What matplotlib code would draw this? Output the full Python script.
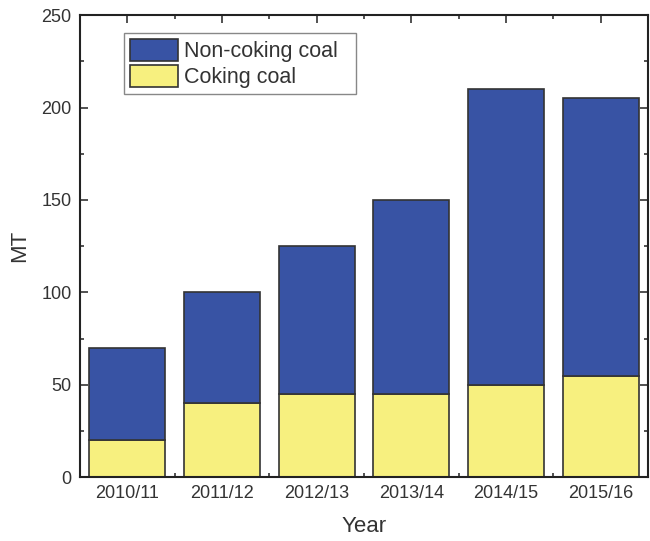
import matplotlib
matplotlib.use("Agg")
import matplotlib.pyplot as plt
import numpy as np
from matplotlib.ticker import MultipleLocator, FixedLocator

plt.rcParams['font.family'] = ['Liberation Sans', 'DejaVu Sans']

years = ["2010/11", "2011/12", "2012/13", "2013/14", "2014/15", "2015/16"]
coking = [20, 40, 45, 45, 50, 55]
non_coking = [50, 60, 80, 105, 160, 150]

blue = "#3853A4"
yellow = "#F7F07F"
txt = "#333333"

fig = plt.figure(figsize=(6.5, 5.41), dpi=100)
ax = fig.add_axes([0.123, 0.118, 0.874, 0.854])

x = np.arange(len(years))
ax.bar(x, coking, width=0.8, color=yellow, edgecolor="#333333", linewidth=1.2, label="Coking coal", zorder=2)
ax.bar(x, non_coking, width=0.8, bottom=coking, color=blue, edgecolor="#333333", linewidth=1.2, label="Non-coking coal", zorder=2)

ax.set_xlim(-0.5, len(years) - 0.5)
ax.set_ylim(0, 250)
ax.set_xticks(x)
ax.set_xticklabels(years)
ax.xaxis.set_minor_locator(FixedLocator(x[:-1] + 0.5))
ax.yaxis.set_major_locator(MultipleLocator(50))
ax.yaxis.set_minor_locator(MultipleLocator(25))
ax.tick_params(which="both", direction="in", top=True, right=True, color=txt, width=1.2)
ax.tick_params(which="major", length=6, labelsize=13, labelcolor=txt, pad=6)
ax.tick_params(which="minor", length=3)
for s in ax.spines.values():
    s.set_linewidth(1.5)
    s.set_color("#222222")

ax.set_xlabel("Year", fontsize=16, color=txt, labelpad=10)
ax.set_ylabel("MT", fontsize=16, color=txt, labelpad=8)

handles, labels = ax.get_legend_handles_labels()
leg = ax.legend(handles[::-1], [l + "  " for l in labels[::-1]], loc="upper left",
                bbox_to_anchor=(0.077, 0.962),
                fontsize=15.5, handlelength=2.2, handleheight=1.2, handletextpad=0.3,
                labelspacing=0.1, borderpad=0.3, borderaxespad=0, fancybox=False,
                edgecolor="#888888", framealpha=1)
for t in leg.get_texts():
    t.set_color(txt)
leg.get_frame().set_linewidth(1.0)

fig.savefig("out.png", dpi=100)
